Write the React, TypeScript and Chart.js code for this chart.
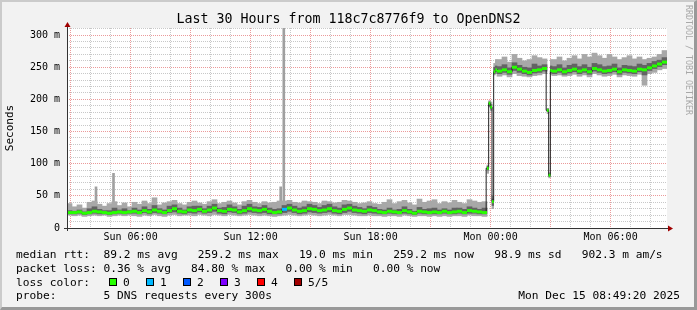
import { useEffect, useRef } from 'react';
import { Chart, registerables } from 'chart.js';
Chart.register(...registerables);

const TITLE = 'Last 30 Hours from 118c7c8776f9 to OpenDNS2';
const START_HOUR = 2 + 49 / 60 + 20 / 3600; // Sun 02:49:20
const SPAN_HOURS = 30;
const STEP_HOURS = 0.25;
const Y_MAX = 311.04;
const yGridValues = [0,10,20,30,40,50,60,70,80,90,100,110,120,130,140,150,160,170,180,190,200,210,220,230,240,250,260,270,280,290,300,310];
const yTickValues = [0, 50, 100, 150, 200, 250, 300];
const yTickLabels = ['0', '50 m', '100 m', '150 m', '200 m', '250 m', '300 m'];
const xTickHours = [6, 12, 18, 24, 30];
const xTickLabels = ['Sun 06:00', 'Sun 12:00', 'Sun 18:00', 'Mon 00:00', 'Mon 06:00'];

// 15-minute samples (ms)
const median = [
  24,24,25,23,24,26,25,24,23,24,25,24,25,
  26,24,27,25,28,26,24,27,30,26,25,28,27,
  29,26,28,31,27,26,29,28,25,27,30,28,
  27,29,26,24,25,29,31,28,26,27,30,29,27,
  28,30,27,26,29,31,28,27,26,28,27,25,
  24,26,25,24,27,25,23,26,25,24,25,24,26,
  24,25,26,24,27,26,25,24,
  null,null,
  244,246,243,250,247,244,242,245,246,248,
  null,
  244,246,243,245,247,244,246,243,248,246,244,245,247,243,246,245,244,247,246,249,252,255,258,
];
const smokeMin = [
  20,19,20,18,19,20,19,20,18,19,20,19,20,
  19,18,20,19,21,19,18,20,21,19,20,20,19,
  21,20,19,21,20,19,21,20,19,20,21,20,
  19,20,19,18,19,20,21,20,19,20,21,20,19,
  20,21,20,19,21,21,20,19,19,20,19,19,
  18,19,19,18,20,19,18,19,19,18,19,18,19,
  18,19,19,18,20,19,19,18,
  null,null,
  236,238,235,240,237,236,235,237,238,240,
  null,
  237,238,236,237,239,236,238,235,240,238,236,237,239,235,238,237,236,239,222,240,242,246,248,
];
const smokeMax = [
  38,33,36,31,40,42,37,34,38,41,35,39,33,
  40,37,42,38,47,36,39,41,43,38,36,40,42,
  39,37,41,44,38,40,42,39,36,41,43,40,
  38,41,39,40,42,42,43,40,39,42,41,40,38,
  42,41,39,40,43,42,40,38,39,41,38,37,
  40,44,38,41,43,39,36,45,40,42,44,38,41,
  39,43,40,38,44,42,40,41,
  null,null,
  262,266,258,270,264,260,262,268,265,263,
  null,
  262,266,260,264,268,263,270,266,272,268,264,270,266,262,265,268,263,266,262,264,266,270,276,
];
const innerLo = [
  22,22,23,21,22,23,22,22,21,22,23,22,23,
  23,22,24,22,24,23,22,24,25,23,22,24,23,
  25,23,24,26,23,22,25,24,22,23,25,24,
  23,24,22,22,22,24,26,24,22,23,25,24,23,
  24,25,23,22,24,26,24,23,22,24,23,22,
  22,23,22,22,23,22,21,23,22,22,22,22,23,
  22,22,23,22,23,23,22,22,
  null,null,
  240,242,239,245,242,240,238,241,242,244,
  null,
  240,242,239,241,243,240,242,239,244,242,240,241,243,239,242,241,240,243,238,245,248,251,254,
];
const innerHi = [
  27,26,28,25,30,33,29,27,27,31,28,30,27,
  31,28,33,29,35,30,28,34,36,31,28,33,34,
  34,30,34,37,31,32,36,33,29,34,37,33,
  32,35,31,29,30,35,37,34,31,33,37,35,32,
  35,37,33,31,36,37,34,32,30,34,32,29,
  28,31,28,29,33,29,26,32,29,30,31,28,30,
  28,31,31,29,33,31,29,31,
  null,null,
  251,254,249,257,253,250,249,255,252,254,
  null,
  251,254,249,253,255,251,254,250,256,254,251,252,255,249,253,252,251,255,253,256,259,261,265,
];

// 5-minute samples around the level changes (hours after start)
const fineOffsets = [21.0417, 21.125, 21.2083, 21.2917, 21.375, 21.4583, 24.0417, 24.125, 24.2083];
const fineMedian = [93, 194, 188, 41, 243, 246, 183, 82, 245];
const fineMin = [85, 188, 182, 30, 238, 240, 178, 78, 238];
const fineMax = [98, 198, 196, 50, 256, 262, 186, 86, 262];
const fineLo = [90, 190, 185, 35, 240, 243, 181, 80, 241];
const fineHi = [96, 196, 192, 45, 250, 252, 185, 84, 252];

// single-ping spikes (hours after start)
const spikeOffsets = [1.45, 2.325, 10.685, 10.84];
const spikeMin = [22, 22, 22, 22];
const spikeMax = [64, 85, 64, 330];

// samples with packet loss: index into 15-min samples, pings lost
const lossSamples = [{ index: 43, lost: 1 }];
const lossColors = ['#26ff00', '#00b8ff', '#0059ff', '#7e00ff', '#ff0000', '#a10000'];
const lossLabels = ['0', '1', '2', '3', '4', '5/5'];

const MONO = '"DejaVu Sans Mono", monospace';
const GRID_MINOR = '#c8c8c8';
const GRID_MAJOR = '#eb9a9a';

const axesPlugin = {
  id: 'rrdAxes',
  beforeDraw(chart: any) {
    const { ctx, chartArea: a } = chart;
    ctx.save();
    ctx.fillStyle = '#ffffff';
    ctx.fillRect(a.left, a.top, a.right - a.left, a.bottom - a.top);
    ctx.restore();
  },
  afterDatasetsDraw(chart: any) {
    const { ctx, chartArea: a } = chart;
    ctx.save();
    ctx.strokeStyle = '#333333';
    ctx.lineWidth = 1;
    ctx.beginPath();
    ctx.moveTo(a.left - 3, a.bottom + 0.5);
    ctx.lineTo(a.right + 2, a.bottom + 0.5);
    ctx.moveTo(a.left + 0.5, a.bottom + 3);
    ctx.lineTo(a.left + 0.5, a.top - 2);
    ctx.stroke();
    ctx.fillStyle = '#a00000';
    ctx.beginPath();
    ctx.moveTo(a.right + 1, a.bottom - 2.5);
    ctx.lineTo(a.right + 6, a.bottom + 0.5);
    ctx.lineTo(a.right + 1, a.bottom + 3.5);
    ctx.closePath();
    ctx.fill();
    ctx.beginPath();
    ctx.moveTo(a.left - 2.5, a.top - 1);
    ctx.lineTo(a.left + 0.5, a.top - 6);
    ctx.lineTo(a.left + 3.5, a.top - 1);
    ctx.closePath();
    ctx.fill();
    ctx.restore();
  },
};

export default function App() {
  const ref = useRef<HTMLCanvasElement>(null);
  useEffect(() => {
    document.body.style.margin = '0';
    const xAt = (i: number) => START_HOUR + (i + 0.5) * STEP_HOURS;
    const band = (lo: (number | null)[], hi: (number | null)[]) =>
      median.map((m, i) => (m == null ? null : { x: xAt(i), y: [lo[i], hi[i]] })).filter(Boolean);
    const fineBand = (lo: number[], hi: number[]) =>
      fineOffsets.map((o, i) => ({ x: START_HOUR + o, y: [lo[i], hi[i]] }));
    const lossOf = (i: number) => {
      const s = lossSamples.find((l) => l.index === i);
      return s ? s.lost : 0;
    };
    const medPts: any[] = [];
    median.forEach((m, i) => {
      if (m != null) medPts.push({ x: xAt(i), y: m, fine: false, loss: lossOf(i) });
    });
    fineOffsets.forEach((o, i) => medPts.push({ x: START_HOUR + o, y: fineMedian[i], fine: true, loss: 0 }));
    medPts.sort((a, b) => a.x - b.x);

    const barCommon = { type: 'bar', grouped: false, borderWidth: 0 };
    const chart = new Chart(ref.current as HTMLCanvasElement, {
      type: 'bar',
      data: {
        datasets: [
          {
            type: 'line',
            data: medPts,
            borderColor: '#202020',
            borderWidth: 1,
            stepped: 'middle',
            pointStyle: 'line',
            pointRadius: (c: any) => (c.raw && c.raw.fine ? 0.85 : 2.5),
            pointBorderWidth: 3,
            pointBorderColor: (c: any) => lossColors[c.raw ? c.raw.loss : 0],
            pointBackgroundColor: (c: any) => lossColors[c.raw ? c.raw.loss : 0],
            order: 0,
          } as any,
          { ...barCommon, data: band(innerLo, innerHi), backgroundColor: '#636363', barThickness: 5, order: 1 } as any,
          { ...barCommon, data: fineBand(fineLo, fineHi), backgroundColor: '#636363', barThickness: 1.7, order: 1 } as any,
          { ...barCommon, data: band(smokeMin, smokeMax), backgroundColor: '#a8a8a8', barThickness: 5, order: 2 } as any,
          { ...barCommon, data: fineBand(fineMin, fineMax), backgroundColor: '#a8a8a8', barThickness: 1.7, order: 2 } as any,
          {
            ...barCommon,
            data: spikeOffsets.map((o, i) => ({ x: START_HOUR + o, y: [spikeMin[i], spikeMax[i]] })),
            backgroundColor: '#a0a0a0',
            barThickness: 2,
            order: 3,
          } as any,
        ],
      },
      options: {
        animation: false,
        responsive: false,
        devicePixelRatio: 1,
        events: [],
        layout: { padding: { left: 0, right: 0, top: 0, bottom: 62 } },
        plugins: {
          legend: { display: false },
          tooltip: { enabled: false },
          title: {
            display: true,
            text: TITLE,
            color: '#000',
            font: { family: MONO, size: 13.3, weight: 'normal', lineHeight: '16px' },
            padding: { top: 12, bottom: 0 },
          },
        },
        scales: {
          x: {
            type: 'linear',
            min: START_HOUR,
            max: START_HOUR + SPAN_HOURS,
            offset: false,
            afterBuildTicks: (s: any) => {
              const t: any[] = [];
              for (let h = Math.ceil(START_HOUR); h <= START_HOUR + SPAN_HOURS; h++) t.push({ value: h });
              s.ticks = t;
            },
            afterFit: (s: any) => { s.height = 20; },
            grid: {
              offset: false,
              drawTicks: false,
              lineWidth: 1,
              color: (c: any) => (c.tick && c.tick.value % 3 === 0 ? GRID_MAJOR : GRID_MINOR),
            },
            border: { display: false, dash: [1, 1] },
            ticks: {
              autoSkip: false,
              maxRotation: 0,
              minRotation: 0,
              padding: 3,
              color: '#000',
              font: { family: MONO, size: 10, lineHeight: '12px' },
              callback: (v: any) => {
                const k = xTickHours.indexOf(Number(v));
                return k >= 0 ? xTickLabels[k] : '';
              },
            },
          },
          y: {
            type: 'linear',
            min: 0,
            max: Y_MAX,
            afterBuildTicks: (s: any) => { s.ticks = yGridValues.map((v) => ({ value: v })); },
            afterFit: (s: any) => { s.width = 67; },
            grid: {
              drawTicks: false,
              lineWidth: 1,
              color: (c: any) => (c.tick && c.tick.value % 50 === 0 ? GRID_MAJOR : GRID_MINOR),
            },
            border: { display: false, dash: [1, 1] },
            ticks: {
              autoSkip: false,
              padding: 7,
              color: '#000',
              font: { family: MONO, size: 10, lineHeight: '12px' },
              callback: (v: any) => {
                const k = yTickValues.indexOf(Number(v));
                return k >= 0 ? yTickLabels[k] : '';
              },
            },
            title: {
              display: true,
              text: 'Seconds',
              color: '#000',
              font: { family: MONO, size: 11, lineHeight: '13px' },
              padding: { top: 4, bottom: 0 },
            },
          },
          y2: {
            type: 'linear',
            position: 'right',
            display: true,
            grid: { display: false },
            ticks: { display: false },
            border: { display: false },
            afterFit: (s: any) => { s.width = 30; },
          },
        },
      } as any,
      plugins: [axesPlugin],
    });
    return () => chart.destroy();
  }, []);

  const lineStyle = (top: number): any => ({
    position: 'absolute',
    left: 16,
    top,
    whiteSpace: 'pre',
    fontSize: '11.2px',
    lineHeight: '14px',
  });

  return (
    <div style={{ position: 'relative', width: 697, height: 310, background: '#f2f2f2', overflow: 'hidden', fontFamily: MONO, color: '#000' }}>
      <canvas ref={ref} width={697} height={310} style={{ position: 'absolute', left: 0, top: 0 }} />
      <div style={{ position: 'absolute', left: 685, top: 5, writingMode: 'vertical-rl', fontSize: '8.3px', lineHeight: '8px', color: '#a8a8a8', whiteSpace: 'pre' }}>
        RRDTOOL / TOBI OETIKER
      </div>
      <div style={lineStyle(248)}>{'median rtt:  89.2 ms avg   259.2 ms max   19.0 ms min   259.2 ms now   98.9 ms sd   902.3 m am/s'}</div>
      <div style={lineStyle(261.5)}>{'packet loss: 0.36 % avg   84.80 % max   0.00 % min   0.00 % now'}</div>
      <div style={lineStyle(275.5)}>{'loss color:'}</div>
      {lossLabels.map((lab, i) => (
        <div key={lab}>
          <div style={{ position: 'absolute', left: 109 + 37 * i, top: 278, width: 8, height: 8, boxSizing: 'border-box', border: '1px solid #000', background: lossColors[i] }} />
          <div style={{ ...lineStyle(275.5), left: 123 + 37 * i }}>{lab}</div>
        </div>
      ))}
      <div style={lineStyle(289.3)}>{'probe:       5 DNS requests every 300s'}</div>
      <div style={{ ...lineStyle(289.3), left: 'auto', right: 17 }}>{'Mon Dec 15 08:49:20 2025'}</div>
      <div style={{ position: 'absolute', left: 0, top: 0, width: 697, height: 310, boxSizing: 'border-box', borderLeft: '2px solid #cbcbcb', borderTop: '2px solid #cbcbcb', borderRight: '3px solid #999', borderBottom: '3px solid #999', pointerEvents: 'none' }} />
    </div>
  );
}
